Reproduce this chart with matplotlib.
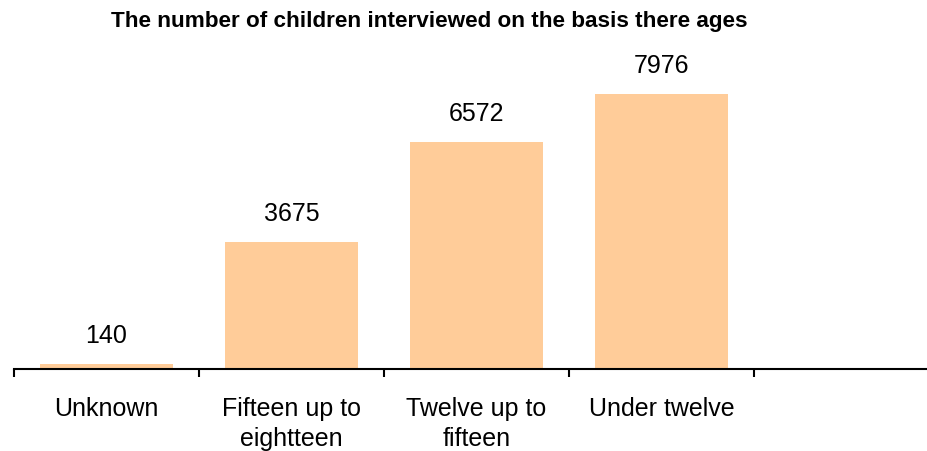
import matplotlib.pyplot as plt

plt.rcParams['font.family'] = ['Liberation Sans', 'DejaVu Sans']

# Children interviewed, grouped by age band
categories = ['Unknown', 'Fifteen up to\neightteen', 'Twelve up to\nfifteen', 'Under twelve']
counts = [140, 3675, 6572, 7976]

fig = plt.figure(figsize=(9.28, 4.51), dpi=100)
ax = fig.add_axes([14 / 928, 1 - 369 / 451, 1 - 14 / 928, (369 - 60) / 451])

x = range(len(categories))
bars = ax.bar(x, counts, width=0.72, color='#FFCC99', zorder=2)

for xi, v in zip(x, counts):
    ax.annotate(str(v), (xi, v), xytext=(0, 11.5), textcoords='offset points',
                ha='center', va='bottom', fontsize=18)

ax.set_ylim(0, 7976 * 309 / 275)
ax.set_xlim(-0.5, 4.44)

# category boundaries carry the tick marks, labels sit between them
ax.set_xticks([-0.5, 0.5, 1.5, 2.5, 3.5])
ax.set_xticklabels([])
ax.set_xticks(list(x), minor=True)
ax.set_xticklabels(categories, minor=True, fontsize=18, multialignment='center',
                   linespacing=1.35)
ax.tick_params(axis='x', which='major', length=6, width=1.5, direction='out')
ax.tick_params(axis='x', which='minor', length=0, pad=20)
ax.set_yticks([])

for side in ('left', 'top', 'right'):
    ax.spines[side].set_visible(False)
ax.spines['bottom'].set_linewidth(1.5)

fig.text(429 / 928, 1 - 21 / 451, 'The number of children interviewed on the basis there ages',
         ha='center', va='center', fontsize=16.2, fontweight='bold')

fig.savefig('out.png', dpi=100)
